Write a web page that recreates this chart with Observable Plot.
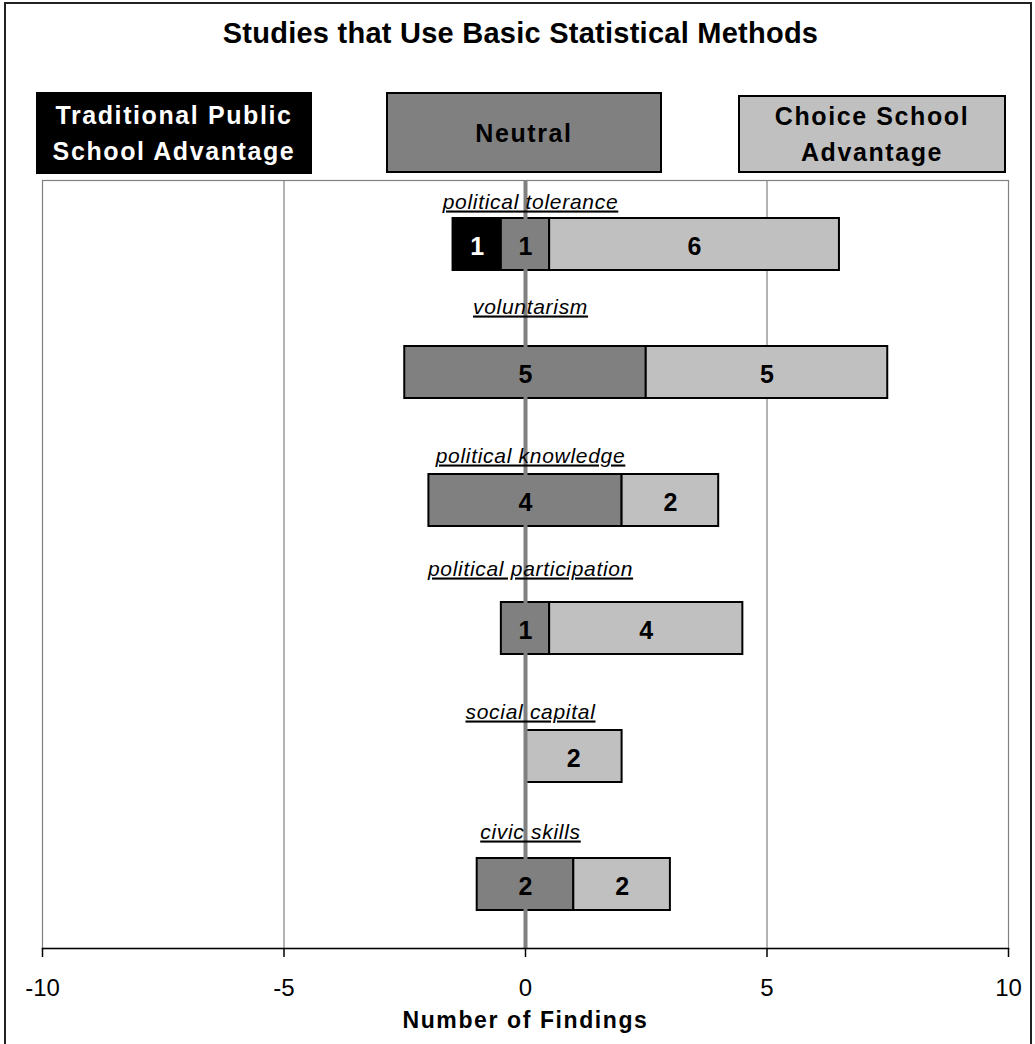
<!DOCTYPE html>
<html>
<head>
<meta charset="utf-8">
<script src="https://cdn.jsdelivr.net/npm/d3@7"></script>
<script src="https://cdn.jsdelivr.net/npm/@observablehq/plot@0.6"></script>
<style>
  body { margin: 0; background: #fff; font-family: "Liberation Sans", Arial, sans-serif; }
  #page { position: relative; width: 1035px; height: 1044px; overflow: hidden; background: #fff; }
  #border { position: absolute; left: 4px; top: 2px; width: 1028px; height: 1080px; border: 2px solid #222; box-sizing: border-box; pointer-events: none; z-index: 5; }
  #title { position: absolute; left: 3px; width: 1035px; top: 19px; text-align: center; font-weight: bold; font-size: 29px; line-height: 29px; letter-spacing: 0.25px; color: #000; }
  .legend { position: absolute; box-sizing: border-box; display: flex; align-items: center; justify-content: center; text-align: center; font-weight: bold; font-size: 25px; letter-spacing: 1.6px; line-height: 36px; }
  .legend > div { text-align: center; }
  #chart { position: absolute; left: 0; top: 175px; }
</style>
</head>
<body>
<div id="page">
  <div id="title"></div>
  <div id="legend"></div>
  <div id="chart"></div>
  <div id="border"></div>
</div>
<script>
// ---- data ----
const title = "Studies that Use Basic Statistical Methods";
const axisTitle = "Number of Findings";
const groups = ["Traditional Public School Advantage", "Neutral", "Choice School Advantage"];
const groupLines = [["Traditional Public", "School Advantage"], ["Neutral"], ["Choice School", "Advantage"]];
const categories = ["political tolerance", "voluntarism", "political knowledge", "political participation", "social capital", "civic skills"];
const traditional = [1, 0, 0, 0, 0, 0];
const neutral = [1, 5, 4, 1, 0, 2];
const choice = [6, 5, 2, 4, 2, 2];
const xTicks = [-10, -5, 0, 5, 10];

// ---- layout / style (not data) ----
const colors = ["#000000", "#808080", "#c0c0c0"];
const labelLift = [36, 59, 38, 53, 38, 46]; // px the category label sits above its bar centre
const legendBoxes = [
  {left: 36, top: 92, width: 276, height: 82, color: "#fff", border: "none"},
  {left: 386, top: 92, width: 276, height: 81, color: "#000", border: "2px solid #000"},
  {left: 738, top: 95, width: 268, height: 78, color: "#000", border: "2px solid #000"}
];

document.getElementById("title").textContent = title;
const legend = document.getElementById("legend");
groups.forEach((g, i) => {
  const b = legendBoxes[i];
  const div = document.createElement("div");
  div.className = "legend";
  Object.assign(div.style, {
    left: b.left + "px", top: b.top + "px", width: b.width + "px", height: b.height + "px",
    background: colors[i], color: b.color, border: b.border
  });
  const inner = document.createElement("div");
  inner.innerHTML = groupLines[i].join("<br>");
  div.appendChild(inner);
  legend.appendChild(div);
});

// stacked, neutral centred on zero
const segments = [];
categories.forEach((c, i) => {
  const t = traditional[i], n = neutral[i], ch = choice[i];
  if (t > 0) segments.push({category: c, group: groups[0], x1: -n / 2 - t, x2: -n / 2, value: t});
  if (n > 0) segments.push({category: c, group: groups[1], x1: -n / 2, x2: n / 2, value: n});
  if (ch > 0) segments.push({category: c, group: groups[2], x1: n / 2, x2: n / 2 + ch, value: ch});
});

const chart = Plot.plot({
  width: 1035,
  height: 869,
  marginLeft: 42,
  marginRight: 27,
  marginTop: 5,
  marginBottom: 96,
  style: {background: "transparent", fontFamily: "'Liberation Sans', Arial, sans-serif", overflow: "visible", color: "#000"},
  x: {domain: [-10, 10], axis: null},
  y: {domain: categories, paddingInner: 0.594, paddingOuter: 0.293, axis: null},
  color: {domain: groups, range: colors},
  marks: [
    Plot.frame({stroke: "#808080", strokeWidth: 1.2}),
    Plot.ruleX([-5, 5], {stroke: "#808080", strokeWidth: 1.2}),
    Plot.barX(segments, {x1: "x1", x2: "x2", y: "category", fill: "group", stroke: "#000", strokeWidth: 2}),
    Plot.ruleX([0], {stroke: "#808080", strokeWidth: 4}),
    Plot.frame({anchor: "bottom", stroke: "#000", strokeWidth: 1.5}),
    Plot.axisX({ticks: xTicks, tickSize: 9, tickPadding: 21, fontSize: 24, tickFormat: d => String(d), label: null, stroke: "#000", strokeWidth: 1.5}),
    ...categories.map((c, i) => Plot.text([c], {
      x: () => 0, y: () => c, text: d => d, dx: 5, dy: -labelLift[i],
      lineAnchor: "bottom", fontSize: 21, fontStyle: "italic", fill: "#000",
      ariaDescription: "category-label"
    })),
    Plot.text(segments.filter(d => d.group === groups[0]), {
      x: d => (d.x1 + d.x2) / 2, y: "category", text: "value", dy: 2,
      fontSize: 25, fontWeight: "bold", fill: "#fff"
    }),
    Plot.text(segments.filter(d => d.group !== groups[0]), {
      x: d => (d.x1 + d.x2) / 2, y: "category", text: "value", dy: 2,
      fontSize: 25, fontWeight: "bold", fill: "#000"
    }),
    Plot.text([axisTitle], {
      frameAnchor: "bottom", text: d => d, dy: 79, lineAnchor: "bottom",
      fontSize: 23, fontWeight: "bold", fill: "#000", ariaDescription: "axis-title"
    })
  ]
});

chart.querySelectorAll('g[aria-description="category-label"] text').forEach(t => {
  t.style.textDecoration = "underline";
  t.style.textDecorationThickness = "2px";
  t.style.letterSpacing = "0.7px";
});
chart.querySelectorAll('g[aria-description="axis-title"] text').forEach(t => {
  t.style.letterSpacing = "1.6px";
});
document.getElementById("chart").appendChild(chart);
</script>
</body>
</html>
